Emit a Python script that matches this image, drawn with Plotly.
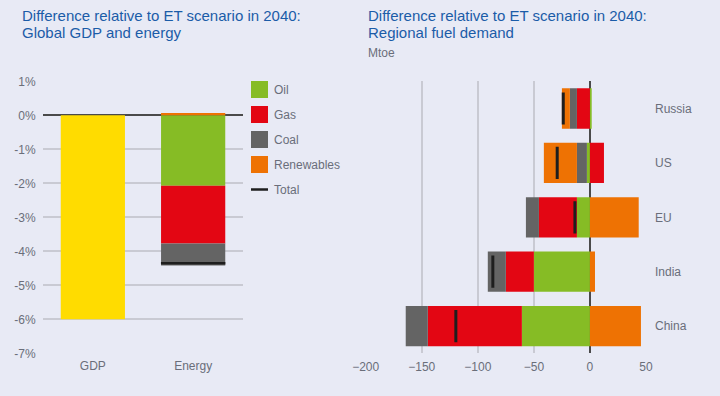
import plotly.graph_objects as go

# ---- Data ----
left_categories = ["GDP", "Energy"]
gdp_change = [-6.0]
energy_oil = [-2.07]
energy_gas = [-1.70]
energy_coal = [-0.65]
energy_renew = [0.07]
energy_total = [-4.35]

regions = ["Russia", "US", "EU", "India", "China"]
reg_oil = [1.5, -2.7, -11.6, -50.0, -60.7]
reg_gas = [-11.6, 12.5, -33.9, -25.0, -83.9]
reg_coal = [-6.3, -8.9, -11.6, -16.1, -19.7]
reg_renew = [-7.1, -29.5, 43.5, 4.5, 45.5]
reg_total = [-23.8, -29.2, -13.4, -86.6, -119.6]

left_ticks = [1, 0, -1, -2, -3, -4, -5, -6, -7]
left_ticktext = ["1%", "0%", "-1%", "-2%", "-3%", "-4%", "-5%", "-6%", "-7%"]
right_ticks = [-200, -150, -100, -50, 0, 50]

legend_names = ["Oil", "Gas", "Coal", "Renewables"]

# ---- Styles ----
C_OIL = "#86bc25"
C_GAS = "#e30613"
C_COAL = "#646464"
C_REN = "#ee7203"
C_GDP = "#ffdc00"
C_TOT = "#1e1e1e"
BG = "#e8eaf5"
GRID = "#c9cad3"
TXT = "#6a6e7a"
TITLE = "#1b5ca8"
FONT = "Liberation Sans"

fig = go.Figure()

# Left chart
fig.add_bar(x=["GDP"], y=gdp_change, marker_color=C_GDP, width=0.64,
            xaxis="x", yaxis="y", showlegend=False)
for vals, col in [(energy_oil, C_OIL), (energy_gas, C_GAS),
                  (energy_coal, C_COAL), (energy_renew, C_REN)]:
    fig.add_bar(x=["Energy"], y=vals, marker_color=col, width=0.64,
                xaxis="x", yaxis="y", showlegend=False)
fig.add_scatter(x=["Energy"], y=energy_total, mode="markers",
                marker=dict(symbol="line-ew", size=46,
                            line=dict(color=C_TOT, width=2.5)),
                xaxis="x", yaxis="y", showlegend=False)

# Right chart
for vals, col in [(reg_oil, C_OIL), (reg_gas, C_GAS),
                  (reg_coal, C_COAL), (reg_renew, C_REN)]:
    fig.add_bar(y=regions, x=vals, orientation="h", marker_color=col,
                width=0.74, xaxis="x2", yaxis="y2", showlegend=False)
fig.add_scatter(y=regions, x=reg_total, mode="markers",
                marker=dict(symbol="line-ns", size=23,
                            line=dict(color=C_TOT, width=3)),
                xaxis="x2", yaxis="y2", showlegend=False)

W, H = 720, 396
def px(x):
    return x / W
def py(y):
    return 1 - y / H

ydom = [py(353.3), py(81.3)]

fig.update_layout(
    template="none",
    width=W, height=H, autosize=False,
    margin=dict(l=0, r=0, t=0, b=0, pad=0),
    paper_bgcolor=BG, plot_bgcolor=BG,
    barmode="relative",
    font=dict(family=FONT, color=TXT, size=11),
    xaxis=dict(domain=[px(42.7), px(243.3)], range=[-0.5, 1.5],
               categoryorder="array", categoryarray=left_categories,
               showgrid=False, zeroline=False, showline=False,
               ticks="", tickfont=dict(size=12, color=TXT),
               ticklabelstandoff=4, automargin=False),
    yaxis=dict(domain=ydom, range=[-7, 1], tickvals=left_ticks,
               ticktext=left_ticktext, showgrid=True, gridcolor=GRID,
               gridwidth=1.5, zeroline=True, zerolinecolor="#4a4a4a",
               zerolinewidth=1.5, showline=False, ticks="",
               ticklabelstandoff=6, tickfont=dict(size=12, color=TXT),
               automargin=False),
    xaxis2=dict(domain=[px(365.7), px(646)], range=[-200, 50],
                tickvals=right_ticks, showgrid=True, gridcolor=GRID,
                gridwidth=1.5, zeroline=True, zerolinecolor="#4a4a4a",
                zerolinewidth=1.5, showline=False, ticks="",
                ticklabelstandoff=5, tickfont=dict(size=12, color=TXT),
                anchor="y2", automargin=False),
    yaxis2=dict(domain=ydom, range=[4.5, -0.5], side="right",
                categoryorder="array", categoryarray=regions,
                showgrid=False, zeroline=False, showline=False, ticks="",
                ticklabelstandoff=8, tickfont=dict(size=12, color=TXT),
                anchor="x2", automargin=False),
)

# Titles (one annotation per line for exact line spacing)
titles = [
    (20, ["Difference relative to ET scenario in 2040:", "Global GDP and energy"]),
    (365.5, ["Difference relative to ET scenario in 2040:", "Regional fuel demand"]),
]
for xpos, lines in titles:
    for j, line in enumerate(lines):
        fig.add_annotation(x=px(xpos), y=py(15.3 + 17 * j), xref="paper", yref="paper",
                           xanchor="left", yanchor="middle", showarrow=False,
                           text=line, font=dict(size=15, color=TITLE, family=FONT))
fig.add_annotation(x=px(365.5), y=py(53), xref="paper", yref="paper",
                   xanchor="left", yanchor="middle", showarrow=False,
                   text="Mtoe", font=dict(size=12, color=TXT, family=FONT))

# Custom legend
legend_cols = [C_OIL, C_GAS, C_COAL, C_REN]
y0 = 89.5
step = 25
for i, (name, col) in enumerate(zip(legend_names, legend_cols)):
    yc = y0 + i * step
    fig.add_shape(type="rect", xref="paper", yref="paper",
                  x0=px(251), x1=px(268), y0=py(yc + 8.5), y1=py(yc - 8.5),
                  fillcolor=col, line_width=0)
    fig.add_annotation(x=px(271.5), y=py(yc), xref="paper", yref="paper",
                       xanchor="left", yanchor="middle", showarrow=False,
                       text=name, font=dict(size=12, color=TXT, family=FONT))
yc = y0 + 4 * step
fig.add_shape(type="line", xref="paper", yref="paper",
              x0=px(251), x1=px(268), y0=py(yc), y1=py(yc),
              line=dict(color=C_TOT, width=2.5))
fig.add_annotation(x=px(271.5), y=py(yc), xref="paper", yref="paper",
                   xanchor="left", yanchor="middle", showarrow=False,
                   text="Total", font=dict(size=12, color=TXT, family=FONT))

fig.write_html(
    "out.html",
    config=dict(displayModeBar=False, responsive=False),
    post_script="document.body.style.margin='0';document.body.style.padding='0';document.body.style.overflow='hidden';",
)
